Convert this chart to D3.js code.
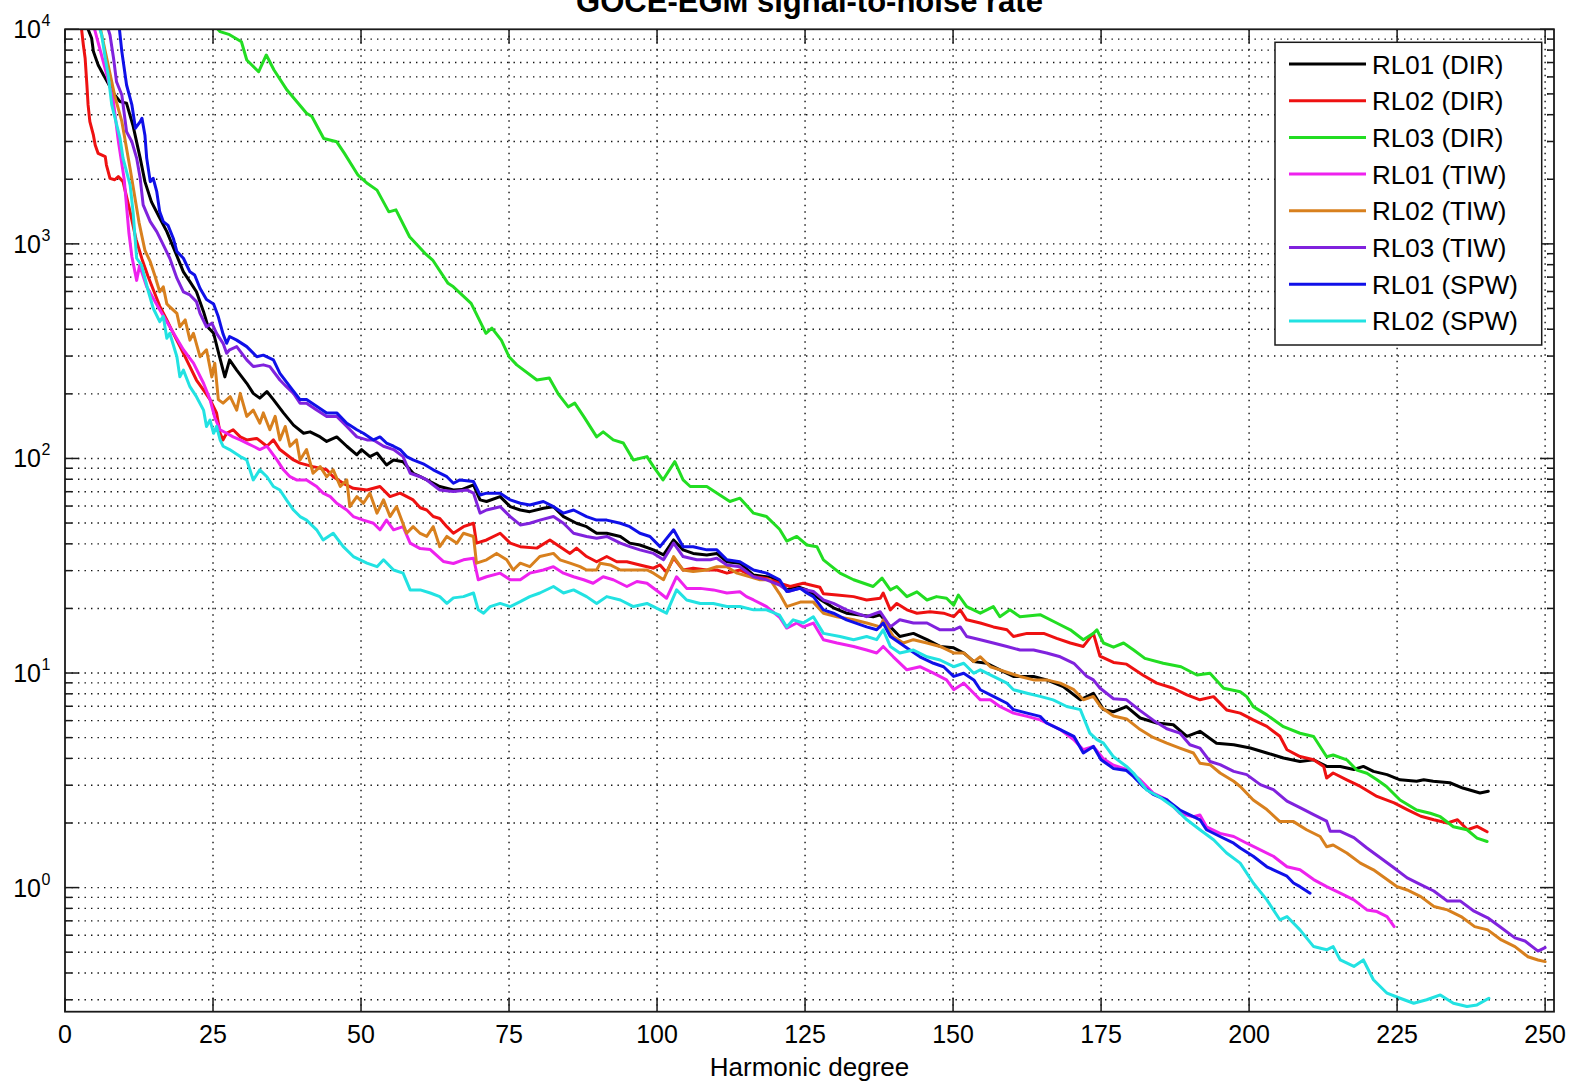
<!DOCTYPE html>
<html><head><meta charset="utf-8">
<script src="https://cdn.jsdelivr.net/npm/d3@7"></script>
<style>
body{margin:0;background:#fff}
svg{display:block}
text{font-family:"Liberation Sans",Arial,Helvetica,sans-serif;fill:#000}
</style>
</head><body>
<svg id="chart" width="1583" height="1087"></svg>
<script>
const title = "GOCE-EGM signal-to-noise rate";
const xLabel = "Harmonic degree";
const xTicks = [0,25,50,75,100,125,150,175,200,225,250];
const yTickExps = [0,1,2,3,4];
const seriesNames = ["RL01 (DIR)","RL02 (DIR)","RL03 (DIR)","RL01 (TIW)","RL02 (TIW)","RL03 (TIW)","RL01 (SPW)","RL02 (SPW)"];
const seriesColors = ["#000000","#ee1111","#22dd22","#ee22ee","#d8801e","#8022dd","#1010e8","#22e2e2"];

// [harmonic degree, signal-to-noise]
const rl01Dir = [[3.9,10000],[4.5,9080],[4.8,7870],[5.6,6820],[6.5,6120],[8.4,4940],[9.3,4600],[10.4,4520],[11.5,3550],[12.7,2510],[13.5,1950],[14.6,1570],[16,1320],[17.2,1140],[18.6,920],[20,741],[21.1,667],[22.2,598],[23.4,483],[24.2,408],[25.1,383],[26.1,298],[27,240],[27.8,288],[29,258],[30.7,224],[31.8,201],[32.9,191],[34.1,205],[35.2,188],[36.9,163],[38.6,143],[40.3,131],[41.4,133],[43.1,126],[44.2,120],[45.9,126],[47.6,114],[49.3,104],[50.1,110],[51.5,102],[52.7,106],[54.3,93.3],[55.5,98.4],[57.1,96.6],[58.8,85.3],[60,82.2],[61.1,79.4],[63.3,74],[65.6,71.3],[67,71.6],[69,75.3],[70.1,64.1],[71.2,63],[73.5,66.4],[75.2,59.6],[76.9,57.5],[78.5,56.5],[80.8,58.6],[82.5,59.6],[84.2,53.6],[86.4,49.9],[88.1,48.1],[89.8,44.8],[91.5,44.8],[93.8,43.3],[95.4,40.3],[97.1,39.5],[99.4,37.5],[101.1,35.5],[102.8,41.7],[104.4,37.5],[106.1,36.1],[108.4,35.5],[110.1,36.1],[111.8,33],[114,32.5],[116.3,28.6],[118.5,28.1],[120.2,27.2],[121.9,24.4],[123.6,25.3],[125.3,24.4],[127.5,22.1],[130,20],[132,19],[136.5,18.3],[137.7,18.7],[139.4,16.4],[141,14.8],[143.3,15.3],[145.6,14.3],[147.8,13.3],[150.1,13.1],[151.8,12.4],[153.5,11.3],[155.7,11.1],[157.9,10.35],[160.2,9.64],[163.6,9.64],[165.8,9.29],[168.6,8.65],[171.5,7.5],[173.7,8.05],[175.4,6.75],[177.1,6.6],[179.3,6.98],[181.6,6.17],[184.4,5.85],[187.2,5.74],[189.5,5.07],[191.7,5.35],[194.5,4.71],[197.4,4.63],[200.2,4.47],[203,4.24],[205.8,4.02],[208.6,3.87],[210.9,3.94],[213.1,3.67],[215.4,3.67],[217.7,3.55],[219.3,3.67],[221,3.48],[223.3,3.36],[225.5,3.18],[228.3,3.13],[229.5,3.18],[231.1,3.13],[233.9,3.08],[236.1,2.91],[239,2.76],[240.4,2.81]];

const rl02Dir = [[2.8,10000],[3.1,8450],[3.4,7330],[3.7,5500],[3.9,4440],[4.2,3710],[4.8,3210],[5.1,2890],[5.6,2640],[6.8,2550],[7,2330],[7.6,2020],[8.4,1990],[9,2060],[9.8,1950],[11,1410],[12,1050],[13,851],[14,708],[15,603],[16,513],[17.2,442],[18.3,383],[20,309],[21.1,268],[22.2,232],[23.4,208],[24.5,188],[25.6,163],[26.2,131],[26.7,122],[27.3,131],[28.4,136],[29.6,126],[30.7,122],[32.4,124],[34.1,114],[35.2,122],[36.3,110],[38.6,98.4],[39.7,95.1],[41.9,91.6],[44.2,88.5],[45.3,82.2],[47,76.6],[48.7,72.6],[51,71.3],[53.2,74],[54.9,66.4],[56.6,68.9],[58.8,64.1],[60,58.9],[61.1,57.5],[62.2,53.6],[63.3,52.5],[64.5,48.1],[65.6,44.8],[67.3,48.1],[69,49.9],[69.5,40.3],[71.2,41.7],[73.5,44.8],[75.2,40.3],[76.9,38.8],[79.7,38.2],[81.9,41.7],[83.6,38.8],[85.3,36.1],[86.4,38.2],[88.1,34.9],[89.8,33],[91.5,34.9],[93.2,33],[94.9,33],[97.1,31.9],[99.4,30.8],[100.5,31.9],[101.6,29.5],[102.8,34.3],[104.4,30.2],[106.1,30.8],[108.4,30.2],[110.1,30.2],[111.8,29.2],[114,30.2],[116.3,28.1],[118.5,27.6],[120.7,26.2],[122.5,25.3],[124.7,26.2],[127.5,25.1],[128.1,23.4],[130.4,23.1],[133.2,22.7],[135.4,21.9],[137.7,22.3],[138.2,23.6],[139.4,19.7],[140.5,21.1],[142.2,19.7],[143.9,19],[146.1,19.3],[148.4,19],[150.1,18.3],[151.2,19.7],[152.3,17.7],[154.6,17.1],[156.8,16.4],[159.1,15.9],[160.2,14.8],[162.5,15.3],[165.3,15.3],[167.5,14.5],[169.8,13.8],[172,13.3],[173.7,15.3],[174.8,12],[177.1,11.2],[179.3,11],[182.1,9.77],[184.4,8.97],[187.2,8.49],[189.5,7.91],[191.7,7.5],[194,7.76],[196.2,6.73],[198.5,6.5],[200.7,6.05],[203,5.64],[205.2,5.07],[206.4,4.39],[208.6,4.08],[210.9,3.94],[212.6,3.67],[213.1,3.24],[214.2,3.42],[216.5,3.18],[218.8,2.96],[221.6,2.66],[224.5,2.48],[226.7,2.31],[229,2.15],[231.2,2.07],[233.5,2],[235.2,2.07],[236.9,1.86],[238.5,1.93],[240.2,1.82]];

const rl03Dir = [[25.8,10000],[26.2,9750],[27.8,9440],[29.8,8750],[30.7,7190],[32.7,6340],[34,7590],[35.3,6460],[37.5,5210],[40.8,4060],[41.7,3920],[43.7,3100],[45.9,2990],[47.2,2640],[49.5,2090],[51.1,1910],[52.7,1780],[54.7,1410],[55.9,1440],[58.2,1080],[60.8,904],[62.1,841],[64.7,655],[65.6,631],[68.6,528],[71.1,383],[72.1,405],[73.7,356],[75,298],[76.3,273],[79.7,232],[81.8,237],[83.3,200],[85,174],[86.1,181],[87.6,157],[89.8,126],[90.9,133],[92.6,122],[94.3,118],[96,98.4],[98.3,102],[99.4,91.6],[101,79.4],[103,96.6],[104.4,79.4],[105.6,74],[108.4,74],[110.6,67.6],[112.3,63],[114,65.3],[116.3,55.6],[118.5,53.6],[120.7,46.8],[121.9,41.2],[123.6,43.3],[125.3,39.5],[127,38.8],[128.1,33.7],[130.9,29.2],[133.2,27.2],[136.5,25.3],[138,27.7],[139.4,24.4],[140.5,25.3],[142.2,22.7],[143.9,23.9],[145.6,21.9],[147.2,22.7],[148.9,22.3],[150.1,20.7],[150.9,23.1],[152.3,20.4],[154.6,19],[156.8,20.4],[157.9,18.3],[159.6,19.7],[161.3,18.3],[164.7,18.7],[167.5,17.1],[169.8,15.9],[172,14.3],[173.7,15.3],[174.3,15.9],[175.4,13.8],[177.1,13.2],[178.8,13.8],[180.5,12.8],[182.4,11.7],[185.5,11.1],[188.5,10.7],[191.2,9.79],[193.4,9.98],[195.7,8.49],[198.5,8.18],[199.6,7.76],[200.7,6.97],[203,6.38],[205.8,5.62],[208.6,5.24],[210.9,5.06],[213.1,4.07],[214.2,4.15],[216.5,3.94],[218.2,3.53],[219.9,3.41],[221.6,3.18],[223.2,2.96],[225.5,2.56],[228.3,2.3],[230.6,2.22],[232.3,2.14],[234.5,1.92],[236.8,1.86],[238.5,1.7],[240.2,1.64]];

const rl01Tiw = [[5,10000],[8.1,4790],[9,3020],[10,2000],[10.8,1120],[11.3,871],[12.1,676],[12.6,794],[13.8,631],[16,493],[17.7,411],[20,321],[21.7,278],[23.4,224],[24.5,188],[25.3,155],[26.2,136],[27.3,131],[28.4,126],[29.6,122],[30.7,118],[31.8,114],[32.9,110],[34.1,114],[35.8,98.4],[36.9,88.5],[38,82.2],[39.1,79.4],[40.8,79.4],[42.5,74],[43.6,68.9],[44.8,66.4],[45.9,61.8],[47.6,57.5],[48.7,53.6],[50.4,51.6],[52.1,49.9],[53.2,46.5],[54.3,51.6],[55.5,46.5],[57.1,48.1],[58.3,40.3],[60,38],[61.7,37.6],[63.9,33.1],[65.6,32.4],[67.3,33.7],[69,34.3],[69.8,27.2],[71.2,28.1],[73.5,29.2],[75.2,27.2],[76.9,27.2],[78.5,29.2],[80.8,30.2],[82.5,31.3],[84.2,29.2],[85.9,28.1],[87.6,27.2],[89.2,26.2],[90.9,28.1],[92.6,27.2],[94.9,25.3],[96.6,26.7],[98.3,26.2],[100.5,23.6],[101.6,22.3],[103.3,28.1],[105,24.8],[107.3,24.8],[109.5,24.4],[111.8,23.6],[114,23.9],[115.1,22.7],[116.3,21.9],[118.5,20.4],[120.7,18.2],[121.9,16.2],[123.6,17.1],[124.7,16.4],[126.4,17.1],[128.1,14.3],[130.4,13.8],[133.2,13.3],[135.4,12.8],[137.1,12.4],[138.2,13.3],[139.9,11.9],[142.2,10.35],[144.4,10.7],[146.7,9.98],[148.9,9.29],[150.1,8.36],[151.8,8.97],[153.5,8.05],[154.6,7.5],[156.3,7.5],[157.9,6.98],[160.2,6.5],[162.5,6.28],[164.7,6.05],[165.8,5.85],[168.1,5.45],[170.4,4.89],[172,4.39],[173.7,4.55],[175.4,3.98],[177.1,3.72],[179.3,3.55],[181.6,3.18],[183.8,2.76],[186.1,2.57],[188.3,2.22],[190.6,2.14],[191.7,2.18],[192.8,1.92],[195.1,1.79],[197.4,1.73],[199.6,1.61],[201.9,1.5],[204.1,1.4],[206.4,1.25],[208.6,1.21],[210.9,1.09],[213.1,1.01],[215.4,0.942],[217.7,0.877],[219.9,0.787],[221.6,0.773],[223.3,0.733],[224.5,0.658]];

const rl02Tiw = [[6,10000],[8.4,4900],[9.6,3720],[11,2240],[12.5,1260],[13.5,933],[14.4,826],[15.2,708],[16,598],[16.6,631],[17.2,525],[17.7,509],[18.9,474],[19.4,411],[20.3,442],[21.1,356],[21.7,383],[22.8,298],[23.9,321],[24.8,240],[25.3,278],[25.9,188],[26.7,181],[27.9,194],[29,168],[29.6,201],[30.7,157],[31.8,168],[32.9,146],[33.5,163],[34.6,136],[35.5,157],[36.3,122],[37.2,141],[38,114],[39.1,122],[39.7,98.4],[40.8,110],[41.9,85.3],[43.1,91.6],[44.2,82.2],[45.3,88.5],[46.5,74],[47.6,79.4],[48.1,59.7],[49.3,66.4],[50.4,61.8],[51.5,68.9],[52.7,55.6],[53.8,64.1],[54.9,53.6],[56,59.7],[57.7,44.8],[58.8,48.1],[60,44.7],[61.1,43.3],[62.2,48.1],[63.3,38.8],[64.5,43.3],[66.2,40.3],[67.3,44.8],[69,43.3],[69.5,32.5],[71.2,33.7],[72.9,36.1],[74.6,33.7],[75.7,30.2],[76.9,32.5],[78.5,31.3],[80.2,34.9],[82.5,36.1],[83.6,33.7],[85.3,32.5],[87,31.3],[88.1,30.2],[89.8,30.2],[90.4,32.5],[92.1,31.9],[93.8,30.2],[96,30.2],[98.3,30.2],[99.4,29.2],[101.1,27.2],[102.8,34.9],[104.4,30.2],[106.1,29.7],[108.4,30.2],[110.1,31.3],[111.8,31.3],[113.5,29.2],[115.7,28.1],[117.4,27.2],[119.1,27.2],[120.7,23.4],[121.9,20.4],[124.2,21.4],[126.4,21.4],[128.1,19],[130.4,18.3],[133.2,17.7],[135.4,17.1],[137.7,16.4],[138.2,17.7],[139.9,14.8],[141.6,13.8],[143.3,14.3],[145.6,13.8],[147.8,13.3],[150.1,12.4],[151.8,12.4],[153.5,11.3],[154.6,11.9],[156.3,10.7],[157.9,10.35],[159.6,9.98],[161.3,9.64],[163.6,9.29],[165.8,9.29],[168.1,8.97],[170.4,8.36],[172,7.5],[173.7,7.78],[175,6.92],[177.1,6.31],[179.3,6.11],[181.6,5.45],[183.8,5.01],[186.1,4.71],[188.3,4.47],[190.6,4.24],[191.7,3.8],[193.4,3.74],[195.1,3.42],[197.4,3.13],[198.5,2.96],[200.7,2.56],[203,2.31],[205.2,2.03],[207.5,2.03],[209.7,1.86],[212,1.73],[213.1,1.55],[214.2,1.58],[216.5,1.45],[218.8,1.3],[221,1.21],[223.3,1.09],[225,1.01],[226.7,0.975],[229,0.908],[231.2,0.817],[233.5,0.787],[235.8,0.733],[238.1,0.658],[240.3,0.635],[242.6,0.57],[244.9,0.531],[247.1,0.476],[248.8,0.46],[250,0.452]];

const rl03Tiw = [[7.3,10000],[7.6,9400],[8.2,7330],[8.7,5700],[9.6,4940],[10.4,3330],[11.3,2990],[12.1,2510],[12.7,2020],[13.2,1520],[14.4,1270],[15.5,1140],[16.6,989],[17.7,857],[18.9,692],[20,598],[21.1,578],[22.2,538],[22.8,474],[23.9,411],[24.8,427],[25.6,383],[26.7,344],[27.3,309],[27.8,321],[29,332],[30.7,288],[31.8,268],[33.5,273],[34.6,268],[36.3,232],[37.4,216],[38.6,201],[39.7,181],[40.8,181],[42.5,168],[44.2,157],[45.9,157],[47.6,141],[49.3,126],[51,122],[52.1,122],[53.8,114],[55.5,110],[57.1,102],[58.3,85.3],[60,82.2],[61.1,79.4],[63.3,71.3],[65.6,70.1],[67.9,71.3],[69,68.9],[70.1,55.6],[71.2,57.5],[73.5,59.6],[75.2,53.6],[76.9,49],[78.5,49.9],[80.2,51.6],[82.5,53.6],[84.2,49.9],[85.9,44.8],[88.1,43.3],[89.8,42.5],[91.5,43.3],[93.8,40.3],[95.4,38.8],[97.1,37.5],[99.4,36.1],[101.1,33.7],[102.8,40.3],[104.4,34.9],[106.7,33.7],[109,33.7],[110.1,34.3],[111.8,31.9],[114,31.3],[116.3,28.1],[118.5,27.2],[120.7,25.7],[122.2,24],[124,24.8],[126.4,24],[128.1,21.9],[129.8,21.1],[132,19.7],[135.4,18.3],[137.7,19.3],[139.4,16.4],[141,17.7],[143.3,17.1],[145.6,17.1],[147.8,15.9],[150.1,15.9],[151.2,16.4],[152.3,14.8],[154.6,14.3],[156.8,13.8],[159.1,13.3],[161.3,12.8],[163.6,12.8],[165.8,12.4],[168.1,11.9],[170.4,11.1],[172.6,9.64],[173.7,9.29],[174.8,8.51],[177.1,7.59],[179.3,7.5],[181.6,6.68],[183.8,6.03],[186.1,5.5],[188.3,5.25],[190,4.63],[191.7,4.47],[193.4,3.87],[195.1,3.74],[197.4,3.48],[199.6,3.36],[201.9,3.02],[204.1,2.86],[206.4,2.53],[208.6,2.36],[210.9,2.19],[213.1,2.04],[213.7,1.83],[215.4,1.83],[217.7,1.71],[219.9,1.53],[222.1,1.38],[224.4,1.24],[226.7,1.11],[228.9,1.035],[231.2,0.964],[233.5,0.865],[235.7,0.865],[238,0.776],[240.3,0.723],[242.6,0.65],[244.9,0.583],[246.6,0.564],[248.8,0.506],[250,0.525]];

const rl01Spw = [[9.2,10000],[9.6,7870],[10.4,5500],[11.3,4440],[11.9,3460],[12.7,3710],[13,3850],[13.5,3210],[13.8,2510],[14.4,1950],[14.9,2020],[15.5,1750],[16,1410],[16.6,1270],[17.4,1220],[18.3,1060],[18.9,920],[20,857],[21.1,741],[21.9,716],[22.8,621],[23.9,550],[25.1,525],[25.9,457],[26.7,380],[27.3,344],[27.8,370],[29,356],[30.7,332],[32.4,298],[33.5,303],[35.2,288],[36.3,249],[38,216],[39.7,188],[40.8,188],[42.5,175],[44.2,163],[45.9,163],[47.6,146],[49.3,136],[50.4,131],[52.1,122],[53.2,126],[54.3,118],[55.5,114],[56.6,110],[57.7,102],[58.8,98.4],[60.5,94.4],[62.2,88.5],[64.5,82.2],[65.6,76.6],[66.7,79.4],[69,78],[70.1,67.6],[71.2,68.9],[73.5,68.9],[75.2,64.1],[76.9,61.8],[78.5,60.7],[80.8,63],[82.5,59.6],[84.2,55.6],[85.9,57.5],[88.1,53.6],[89.8,51.6],[91.5,51.6],[93.8,49.9],[95.4,48.1],[97.1,44.8],[98.8,43.3],[100.5,38.8],[102.8,46.5],[104.4,38.8],[106.1,38.8],[108.4,37.5],[110.1,37.5],[111.8,33.7],[114,33],[116.3,30.2],[118.5,29.2],[120.7,27.2],[121.9,24],[124.2,24.8],[125.3,23.6],[126.4,22.7],[128.1,19.7],[129.8,19],[132,17.7],[135.4,16.4],[137.1,15.9],[138.2,17.1],[139.4,14.8],[141,13.8],[142.7,12.8],[144.4,11.9],[146.7,11.1],[148.4,10.7],[150.1,9.64],[151.8,9.98],[153.5,9.29],[154.6,8.36],[156.8,7.78],[159.1,7.23],[160.2,6.75],[162.5,6.5],[164.7,6.28],[165.8,5.85],[168.1,5.45],[170.4,5.07],[172,4.24],[173.7,4.55],[175,3.94],[177.1,3.59],[179.3,3.51],[180.5,3.29],[182.1,2.96],[183.8,2.72],[186.1,2.56],[188.3,2.3],[190.6,2.14],[191.7,2.07],[192.8,1.86],[195.1,1.73],[197.4,1.61],[198.5,1.53],[200.7,1.4],[203,1.25],[204.1,1.21],[206.4,1.13],[207.5,1.05],[208.6,1.01],[210.3,0.942]];

const rl02Spw = [[5.9,10000],[6.2,9400],[6.8,7330],[7.3,6120],[7.9,4440],[9.3,3100],[9.8,2510],[10.4,2170],[11,1880],[11.5,1410],[12.1,857],[12.9,798],[13.5,692],[14.1,598],[14.9,501],[16,434],[16.6,459],[17.2,363],[17.7,383],[18.9,298],[19.4,240],[20,258],[21.1,216],[22.2,194],[23.4,168],[23.9,141],[24.5,151],[25.1,131],[25.6,141],[26.2,122],[26.7,114],[27.8,110],[29.6,102],[30.7,98.4],[31.8,79.4],[32.9,88.5],[34.1,82.2],[35.2,74],[36.3,71.3],[37.4,64.1],[38.6,57.5],[39.7,53.6],[40.8,51.6],[42.5,46.5],[43.6,41.7],[45.3,44.8],[47,38.8],[48.7,34.9],[51,32.5],[52.7,31.3],[53.8,33.7],[55.5,30.2],[57.1,29.2],[58.3,24.4],[60,24.4],[61.7,23.6],[63.3,22.7],[64.5,21.1],[65.6,22.4],[67.3,22.7],[69,23.6],[69.8,19.7],[70.7,19],[71.8,20.4],[73.5,21.1],[75.2,20.4],[76.9,21.5],[78.5,22.7],[80.2,23.6],[82.5,25.3],[84.2,23.6],[85.9,24.4],[88.1,22.7],[89.8,21.1],[91.5,22.7],[93.8,21.9],[96,20.4],[98.3,21.1],[100.5,19.7],[101.6,19],[103.3,24.4],[105,21.9],[107.3,21.1],[109.5,21.1],[111.8,20.4],[114,20.4],[116.3,19.7],[118.5,19.7],[120.7,18.6],[121.9,16.4],[123,17.7],[124.7,17.1],[126.4,18.3],[128.1,15.3],[130.9,14.8],[133.2,14.3],[135.4,14.8],[137.1,14.3],[138.2,15.9],[139.4,13.3],[141,12.4],[143.3,12.8],[145.6,11.9],[147.8,11.5],[150.1,10.7],[151.8,11.1],[153.5,9.98],[154.6,10.35],[156.8,9.64],[159.1,8.97],[160.2,8.36],[162.5,8.05],[164.7,7.78],[166.9,7.5],[169.2,6.98],[171.5,6.75],[173.1,5.25],[174.3,4.89],[175.4,4.71],[177.1,4.07],[179.3,3.67],[180.5,3.41],[182.7,2.85],[185,2.63],[187.2,2.38],[189.5,2.07],[191.7,1.86],[194,1.67],[196.2,1.45],[198.5,1.3],[200.7,1.05],[203,0.877],[205.2,0.708],[206.4,0.733],[208.6,0.635],[210.9,0.531],[213.1,0.513],[214.2,0.531],[215.4,0.46],[217.7,0.429],[219.3,0.46],[221,0.372],[223.3,0.322],[225.5,0.305],[227.8,0.289],[230,0.3],[232.3,0.316],[234.5,0.289],[236.8,0.279],[238.5,0.284],[240.5,0.305]];

const seriesData = [rl01Dir, rl02Dir, rl03Dir, rl01Tiw, rl02Tiw, rl03Tiw, rl01Spw, rl02Spw];

const svg = d3.select("#chart");
const L = 65, R = 1554, T = 29.3, B = 1011.7;
const x = d3.scaleLinear().domain([0, 251.5]).range([L, R]);
const y = d3.scaleLog().domain([0.264, 10000]).range([B, T]);

svg.append("defs").append("clipPath").attr("id","clip")
  .append("rect").attr("x",L).attr("y",T).attr("width",R-L).attr("height",B-T);

// minor/major log grid values
const yGridVals = [];
for (let e = -1; e <= 3; e++) for (let m = 1; m <= 9; m++) {
  const v = m * Math.pow(10, e);
  if (v >= 0.264 && v < 10000) yGridVals.push(v);
}
const grid = svg.append("g").attr("stroke","#111").attr("stroke-width",1.4)
  .attr("stroke-dasharray","1.4,5.1").attr("fill","none");
grid.selectAll("line.h").data(yGridVals).join("line")
  .attr("x1",L).attr("x2",R).attr("y1",d=>y(d)).attr("y2",d=>y(d));
grid.selectAll("line.v").data(xTicks.filter(t=>t>0)).join("line")
  .attr("x1",d=>x(d)).attr("x2",d=>x(d)).attr("y1",T).attr("y2",B);

// series
const line = d3.line().x(d=>x(d[0])).y(d=>y(d[1]));
svg.append("g").attr("clip-path","url(#clip)")
  .selectAll("path").data(seriesData).join("path")
  .attr("d", line).attr("fill","none")
  .attr("stroke",(d,i)=>seriesColors[i]).attr("stroke-width",3)
  .attr("stroke-linejoin","round").attr("stroke-linecap","round");

// frame and ticks
const ax = svg.append("g").attr("stroke","#1a1a1a").attr("fill","none");
ax.append("rect").attr("x",L).attr("y",T).attr("width",R-L).attr("height",B-T).attr("stroke-width",1.8);
const majors = yTickExps.map(e=>Math.pow(10,e));
const minors = yGridVals.filter(v=>!majors.includes(v));
ax.selectAll("line.ym").data(majors).join("line").attr("stroke-width",1.5)
  .attr("x1",L).attr("x2",L+14).attr("y1",d=>y(d)).attr("y2",d=>y(d));
ax.selectAll("line.ymr").data(majors).join("line").attr("stroke-width",1.5)
  .attr("x1",R-14).attr("x2",R).attr("y1",d=>y(d)).attr("y2",d=>y(d));
ax.selectAll("line.yn").data(minors).join("line").attr("stroke-width",1.5)
  .attr("x1",L).attr("x2",L+7).attr("y1",d=>y(d)).attr("y2",d=>y(d));
ax.selectAll("line.ynr").data(minors).join("line").attr("stroke-width",1.5)
  .attr("x1",R-7).attr("x2",R).attr("y1",d=>y(d)).attr("y2",d=>y(d));
ax.selectAll("line.xb").data(xTicks).join("line").attr("stroke-width",1.5)
  .attr("x1",d=>x(d)).attr("x2",d=>x(d)).attr("y1",B).attr("y2",B-14);
ax.selectAll("line.xt").data(xTicks).join("line").attr("stroke-width",1.5)
  .attr("x1",d=>x(d)).attr("x2",d=>x(d)).attr("y1",T).attr("y2",T+14);

// tick labels
svg.append("g").selectAll("text").data(xTicks).join("text")
  .attr("x",d=>x(d)).attr("y",B+31).attr("text-anchor","middle")
  .attr("font-size",25).text(d=>d);
const yl = svg.append("g");
yTickExps.forEach(e=>{
  const yy = y(Math.pow(10,e));
  yl.append("text").attr("x",41).attr("y",yy+9).attr("text-anchor","end")
    .attr("font-size",25).text("10");
  yl.append("text").attr("x",41.5).attr("y",yy-3).attr("text-anchor","start")
    .attr("font-size",16).text(e);
});

// labels
svg.append("text").attr("x",(L+R)/2).attr("y",12).attr("text-anchor","middle")
  .attr("font-size",31).attr("font-weight","bold").text(title);
svg.append("text").attr("x",(L+R)/2).attr("y",1076).attr("text-anchor","middle")
  .attr("font-size",26).text(xLabel);

// legend
const lg = svg.append("g");
lg.append("rect").attr("x",1275).attr("y",42.3).attr("width",266.7).attr("height",302.7)
  .attr("fill","#fff").attr("stroke","#1a1a1a").attr("stroke-width",1.5);
seriesNames.forEach((n,i)=>{
  const yy = 64 + i*36.7;
  lg.append("line").attr("x1",1289).attr("x2",1366).attr("y1",yy).attr("y2",yy)
    .attr("stroke",seriesColors[i]).attr("stroke-width",3);
  lg.append("text").attr("x",1372).attr("y",yy+9.5).attr("font-size",26).text(n);
});
</script>
</body></html>
